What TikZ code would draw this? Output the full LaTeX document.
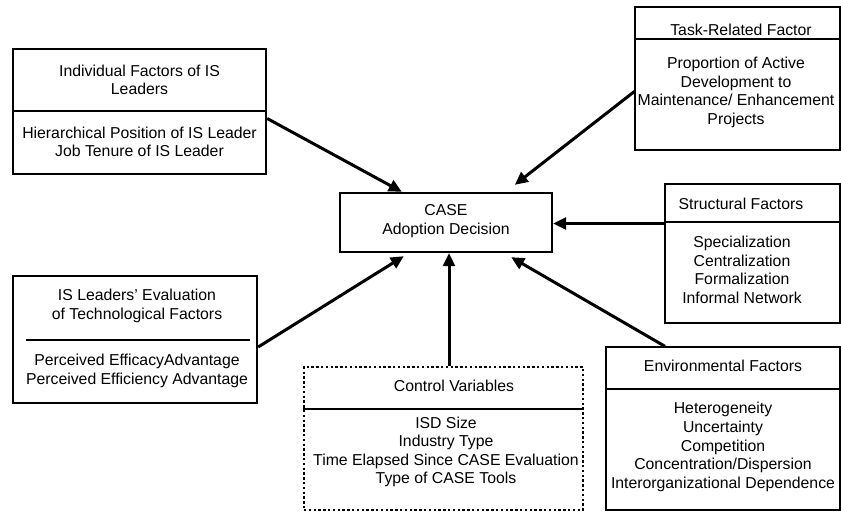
\documentclass[tikz,border=0pt]{standalone}
\usepackage{fontspec}
\setmainfont{Liberation Sans}
\usetikzlibrary{arrows.meta}

\tikzset{
  thickbox/.style={draw=black, line width=2.4pt, inner sep=0pt},
  thinbox/.style={draw=black, line width=1.3pt, inner sep=0pt},
  dotbox/.style={draw=black, line width=2.6pt, dash pattern=on 2.4pt off 2.4pt, inner sep=0pt},
  txt/.style={align=center, inner sep=0pt, font=\fontsize{15.8}{18.6}\selectfont},
  sepline/.style={line width=1.2pt},
  arr/.style={line width=3pt, -{Triangle[length=13pt,width=12pt]}}
}

\begin{document}
\begin{tikzpicture}[x=1pt,y=-1pt]
\useasboundingbox (0,0) rectangle (841,512);

% Central box
\node[thickbox, minimum width=212pt, minimum height=59pt] (case) at (446,222.5) {};
\node[txt] (casetext) at (446,221) {CASE\\Adoption Decision};

% Individual factors
\node[thickbox, minimum width=253pt, minimum height=125pt] (ind) at (139.5,111.5) {};
\draw[sepline] (ind.west |- 0,111) -- (ind.east |- 0,111);
\node[txt] (indhead) at (139.5,80) {Individual Factors of IS\\Leaders};
\node[txt] (indbody) at (139.5,142) {Hierarchical Position of IS Leader\\Job Tenure of IS Leader};

% Task-related factor
\node[thinbox, minimum width=205pt, minimum height=143pt] (task) at (737.5,78.5) {};
\draw[sepline] (task.west |- 0,39) -- (task.east |- 0,39);
\node[txt] (taskhead) at (741,30) {Task-Related Factor};
\node[txt] (taskbody) at (736,92.5) {Proportion of Active\\Development to\\Maintenance/ Enhancement\\Projects};

% Structural factors
\node[thinbox, minimum width=175pt, minimum height=139pt] (struct) at (752.5,253.5) {};
\draw[sepline] (struct.west |- 0,222) -- (struct.east |- 0,222);
\node[txt] (structhead) at (741,204) {Structural Factors};
\node[txt] (structbody) at (742,270) {Specialization\\Centralization\\Formalization\\Informal Network};

% Technological factors
\node[thickbox, minimum width=244pt, minimum height=127pt] (eval) at (135,339.5) {};
\draw[sepline] (26,340) -- (250,340);
\node[txt] (evalhead) at (137,306) {IS Leaders’ Evaluation\\of Technological Factors};
\node[txt] (evalbody) at (137,371) {Perceived EfficacyAdvantage\\Perceived Efficiency Advantage};

% Control variables
\node[dotbox, minimum width=279pt, minimum height=143pt] (ctrl) at (443.5,438.5) {};
\draw[sepline] (ctrl.west |- 0,409) -- (ctrl.east |- 0,409);
\node[txt] (ctrlhead) at (454,386) {Control Variables};
\node[txt] (ctrlbody) at (446,452) {ISD Size\\Industry Type\\Time Elapsed Since CASE Evaluation\\Type of CASE Tools};

% Environmental factors
\node[thinbox, minimum width=234pt, minimum height=163pt] (env) at (723,428.5) {};
\draw[sepline] (env.west |- 0,389) -- (env.east |- 0,389);
\node[txt] (envhead) at (723,366) {Environmental Factors};
\node[txt] (envbody) at (723,447) {Heterogeneity\\Uncertainty\\Competition\\Concentration/Dispersion\\Interorganizational Dependence};

% Arrows into the decision
\draw[arr] ([yshift=-7pt]ind.east) -- ([xshift=63pt]case.north west);
\draw[arr] ([yshift=-13pt]task.west) -- ([xshift=176pt,yshift=7pt]case.north west);
\draw[arr] ([yshift=30pt]struct.west) -- ([yshift=30pt]struct.west -| case.east);
\draw[arr] ([yshift=-7.5pt]eval.east) -- ([xshift=65pt,yshift=-3pt]case.south west);
\draw[arr] ([xshift=5.5pt]ctrl.north) -- ([xshift=5.5pt]ctrl.north |- case.south);
\draw[arr] ([xshift=-58pt]env.north) -- ([xshift=-42pt,yshift=-4pt]case.south east);
\end{tikzpicture}
\end{document}
